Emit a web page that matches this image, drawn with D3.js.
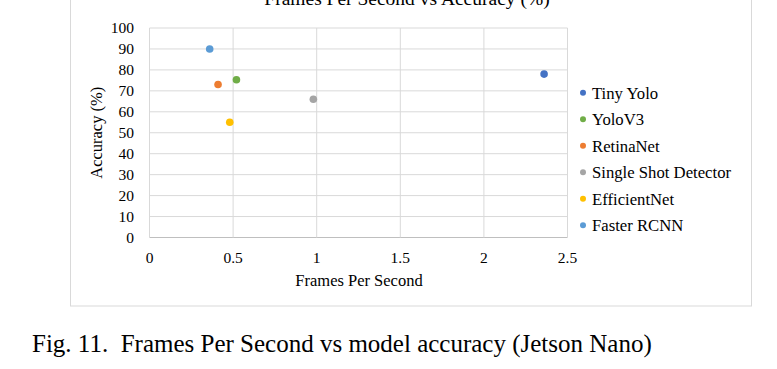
<!DOCTYPE html>
<html>
<head>
<meta charset="utf-8">
<script src="https://cdn.jsdelivr.net/npm/d3@7"></script>
<style>
  body { margin: 0; background: #fff; }
  text { font-family: "Liberation Serif", "Times New Roman", serif; fill: #000; }
</style>
</head>
<body>
<svg id="chart" width="777" height="369"></svg>
<script>
// data
const models = ["Tiny Yolo", "YoloV3", "RetinaNet", "Single Shot Detector", "EfficientNet", "Faster RCNN"];
const fps = [2.36, 0.52, 0.41, 0.98, 0.48, 0.36];
const accuracy = [78, 75.3, 73, 66, 55, 90];
const colors = ["#4472C4", "#70AD47", "#ED7D31", "#A5A5A5", "#FFC000", "#5B9BD5"];
const xTicks = [0, 0.5, 1, 1.5, 2, 2.5];
const yTicks = [0, 10, 20, 30, 40, 50, 60, 70, 80, 90, 100];

const svg = d3.select("#chart");

// outer chart frame
svg.append("rect")
  .attr("x", 70.5).attr("y", -5)
  .attr("width", 681).attr("height", 311)
  .attr("fill", "#fff").attr("stroke", "#d9d9d9");

const x = d3.scaleLinear().domain([0, 2.5]).range([149.5, 567.5]);
const y = d3.scaleLinear().domain([0, 100]).range([237.5, 28]);

// grid
svg.append("g").selectAll("line.h").data(yTicks).join("line")
  .attr("x1", x(0)).attr("x2", x(2.5))
  .attr("y1", d => y(d)).attr("y2", d => y(d))
  .attr("stroke", d => d === 0 ? "#bfbfbf" : "#d9d9d9");
svg.append("g").selectAll("line.v").data(xTicks).join("line")
  .attr("x1", d => x(d)).attr("x2", d => x(d))
  .attr("y1", y(0)).attr("y2", y(100))
  .attr("stroke", "#d9d9d9");

// tick labels
svg.append("g").selectAll("text").data(yTicks).join("text")
  .attr("x", 134).attr("y", d => y(d)).attr("dy", "0.35em")
  .attr("text-anchor", "end").style("font-size", "15.5px")
  .text(d => d);
svg.append("g").selectAll("text").data(xTicks).join("text")
  .attr("x", d => x(d)).attr("y", 263)
  .attr("text-anchor", "middle").style("font-size", "15.5px")
  .text(d => d);

// titles
svg.append("text").attr("x", 407).attr("y", 5)
  .attr("text-anchor", "middle").style("font-size", "19.5px")
  .text("Frames Per Second vs Accuracy (%)");
svg.append("text").attr("x", 359).attr("y", 286)
  .attr("text-anchor", "middle").style("font-size", "16.5px")
  .text("Frames Per Second");
svg.append("text")
  .attr("transform", `translate(102, ${(y(0) + y(100)) / 2}) rotate(-90)`)
  .attr("text-anchor", "middle").style("font-size", "16.5px")
  .text("Accuracy (%)");

// points
svg.append("g").selectAll("circle").data(models).join("circle")
  .attr("cx", (d, i) => x(fps[i]))
  .attr("cy", (d, i) => y(accuracy[i]))
  .attr("r", 3.8)
  .attr("fill", (d, i) => colors[i]);

// legend
const leg = svg.append("g").selectAll("g").data(models).join("g")
  .attr("transform", (d, i) => `translate(583, ${92.7 + i * 26.5})`);
leg.append("circle").attr("r", 3).attr("fill", (d, i) => colors[i]);
leg.append("text").attr("x", 9).attr("dy", "0.35em")
  .style("font-size", "16.7px").text(d => d);

// caption
svg.append("text").attr("x", 32).attr("y", 352)
  .style("font-size", "25px")
  .text("Fig. 11.\u00a0\u00a0Frames Per Second vs model accuracy (Jetson Nano)");
</script>
</body>
</html>
